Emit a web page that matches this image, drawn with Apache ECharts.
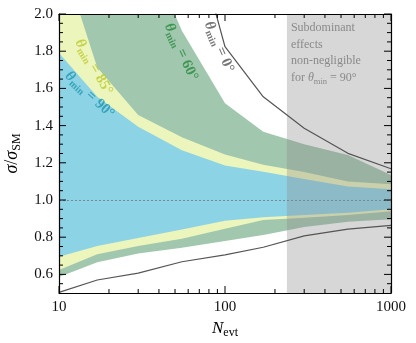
<!DOCTYPE html>
<html>
<head>
<meta charset="utf-8">
<script src="https://cdn.jsdelivr.net/npm/echarts@6/dist/echarts.min.js"></script>
<style>
  html, body { margin: 0; padding: 0; background: #fff; }
  #chart { width: 416px; height: 343px; }
</style>
</head>
<body>
<div id="chart"></div>
<script>
// Event counts (x, log scale)
const nEvt = [10, 17, 30, 55, 100, 170, 300, 550, 1000];

// sigma / sigma_SM bands per theta_min
const theta90Lo = [0.695, 0.753, 0.796, 0.841, 0.888, 0.907, 0.920, 0.932, 0.950];
const theta90Hi = [1.790, 1.555, 1.394, 1.267, 1.185, 1.152, 1.113, 1.072, 1.058];
const theta85Lo = [0.624, 0.709, 0.753, 0.792, 0.845, 0.893, 0.905, 0.920, 0.940];
const theta85Hi = [2.350, 1.712, 1.457, 1.338, 1.245, 1.190, 1.150, 1.100, 1.085];
const theta60Lo = [0.586, 0.665, 0.713, 0.743, 0.780, 0.812, 0.855, 0.883, 0.896];
const theta60Hi = [3.500, 3.000, 2.450, 1.910, 1.520, 1.367, 1.300, 1.242, 1.134];
const theta0Lo  = [0.503, 0.570, 0.607, 0.668, 0.705, 0.746, 0.807, 0.843, 0.864];
const theta0Hi  = [null, null, null, 2.670, 1.824, 1.555, 1.386, 1.251, 1.168];

const subdominantFrom = 236;
const referenceRatio = 1.0;

// ticks
const yMajorTicks = [0.6, 0.8, 1.0, 1.2, 1.4, 1.6, 1.8, 2.0];
const yMinorTicks = [0.55, 0.65, 0.7, 0.75, 0.85, 0.9, 0.95, 1.05, 1.1, 1.15, 1.25, 1.3, 1.35,
  1.45, 1.5, 1.55, 1.65, 1.7, 1.75, 1.85, 1.9, 1.95];
const xMajorTicks = [10, 100, 1000];
const xMinorTicks = [20, 30, 40, 50, 60, 70, 80, 90, 200, 300, 400, 500, 600, 700, 800, 900];

// label anchors [N, ratio]
const labelAnchors = {
  t90: [15.3, 1.565],
  t85: [16.2, 1.715],
  t60: [54.3, 1.796],
  t0: [92, 1.823]
};

const FONT = 'Liberation Serif';
const X_MIN = 10, X_MAX = 1000, Y_MIN = 0.5, Y_MAX = 2.0;
const chart = echarts.init(document.getElementById('chart'));

const pairs = (arr) => nEvt.map((n, i) => [n, arr[i]]);
const gridClip = (cs) => ({ type: 'rect', shape: { x: cs.x, y: cs.y, width: cs.width, height: cs.height } });

// filled band between lo and hi, drawn as one polygon through the axes
const band = (lo, hi, color, z) => ({
  type: 'custom', silent: true, z: z,
  data: [[nEvt[0], lo[0]]],
  renderItem: (params, api) => {
    const upper = nEvt.map((n, i) => api.coord([n, hi[i]]));
    const lower = nEvt.map((n, i) => api.coord([n, lo[i]])).reverse();
    return {
      type: 'polygon',
      shape: { points: upper.concat(lower) },
      style: { fill: color, stroke: null },
      clipPath: gridClip(params.coordSys)
    };
  }
});

const thetaLabel = (anchor, text, color, rot) => ({
  type: 'scatter', silent: true, symbolSize: 0, z: 9,
  data: [anchor],
  label: {
    show: true, position: 'inside', rotate: rot, color: color,
    fontFamily: FONT, fontWeight: 'bold', fontSize: 15,
    formatter: '{th|θ}{sub|min}{n| = ' + text + '}',
    rich: {
      th: { fontFamily: FONT, fontStyle: 'italic', fontWeight: 'bold', fontSize: 15, color: color, lineHeight: 18 },
      sub: { fontFamily: FONT, fontWeight: 'bold', fontSize: 10, color: color, lineHeight: 18, verticalAlign: 'bottom', padding: [5, 0, 0, 0] },
      n: { fontFamily: FONT, fontWeight: 'bold', fontSize: 15, color: color, lineHeight: 18 }
    }
  }
});

// inward ticks on all four sides
const tickSeries = {
  type: 'custom', silent: true, z: 12,
  data: [[X_MIN, Y_MIN]],
  renderItem: (params, api) => {
    const kids = [];
    const seg = (x1, y1, x2, y2) => kids.push({
      type: 'line', shape: { x1, y1, x2, y2 }, style: { stroke: '#000', lineWidth: 1 }
    });
    const yTick = (v, len) => {
      const l = api.coord([X_MIN, v]), r = api.coord([X_MAX, v]);
      seg(l[0], l[1], l[0] + len, l[1]);
      seg(r[0], r[1], r[0] - len, r[1]);
    };
    const xTick = (v, len) => {
      const b = api.coord([v, Y_MIN]), t = api.coord([v, Y_MAX]);
      seg(b[0], b[1], b[0], b[1] - len);
      seg(t[0], t[1], t[0], t[1] + len);
    };
    yMajorTicks.forEach(v => yTick(v, 7));
    yMinorTicks.forEach(v => yTick(v, 4));
    xMajorTicks.forEach(v => xTick(v, 7));
    xMinorTicks.forEach(v => xTick(v, 4));
    return { type: 'group', children: kids };
  }
};

// shaded region where subdominant effects matter, with its note
const shadeSeries = {
  type: 'custom', silent: true, z: 5,
  data: [[subdominantFrom, Y_MAX]],
  renderItem: (params, api) => {
    const tl = api.coord([subdominantFrom, Y_MAX]);
    const br = api.coord([X_MAX, Y_MIN]);
    return {
      type: 'group',
      children: [
        {
          type: 'rect',
          shape: { x: tl[0], y: tl[1], width: br[0] - tl[0], height: br[1] - tl[1] },
          style: { fill: 'rgba(140,140,140,0.35)' }
        },
        {
          type: 'text', x: tl[0] + 4, y: tl[1] + 6,
          style: {
            text: 'Subdominant\neffects\nnon-negligible\nfor {it|θ}{sub|min} = 90°',
            fill: '#8a8a8a', fontFamily: FONT, fontSize: 12, lineHeight: 16.5,
            rich: {
              it: { fontFamily: FONT, fontStyle: 'italic', fontSize: 12, fill: '#8a8a8a', lineHeight: 16.5 },
              sub: { fontFamily: FONT, fontSize: 8.5, fill: '#8a8a8a', lineHeight: 16.5, verticalAlign: 'bottom', padding: [4, 0, 0, 0] }
            }
          }
        }
      ]
    };
  }
};

const frameLine = { show: true, onZero: false, lineStyle: { color: '#000', width: 1.2 } };

chart.setOption({
  animation: false,
  backgroundColor: '#fff',
  grid: { left: 59, right: 25, top: 14, bottom: 50, containLabel: false, outerBoundsMode: 'none' },
  xAxis: [
    {
      type: 'log', logBase: 10, min: X_MIN, max: X_MAX, position: 'bottom', z: 20,
      name: '{it|N}{sub|evt}', nameLocation: 'middle', nameGap: 24,
      nameTextStyle: {
        rich: {
          it: { fontFamily: FONT, fontStyle: 'italic', fontSize: 17, color: '#000', lineHeight: 20 },
          sub: { fontFamily: FONT, fontSize: 12, color: '#000', lineHeight: 20, verticalAlign: 'bottom', padding: [6, 0, 0, 0] }
        }
      },
      axisLine: frameLine, axisTick: { show: false }, splitLine: { show: false },
      axisLabel: {
        show: true, margin: 7, color: '#111', fontFamily: FONT, fontSize: 15,
        formatter: (v) => String(Math.round(v))
      }
    },
    {
      type: 'log', logBase: 10, min: X_MIN, max: X_MAX, position: 'top', z: 20,
      axisLine: frameLine, axisTick: { show: false }, axisLabel: { show: false }, splitLine: { show: false }
    }
  ],
  yAxis: [
    {
      type: 'value', min: Y_MIN, max: Y_MAX, position: 'left', z: 20,
      name: '{it|σ}{n|/}{it|σ}{sub|SM}', nameLocation: 'middle', nameGap: 36, nameRotate: 90,
      nameTextStyle: {
        rich: {
          it: { fontFamily: FONT, fontStyle: 'italic', fontSize: 18, color: '#000', lineHeight: 22 },
          n: { fontFamily: FONT, fontSize: 18, color: '#000', lineHeight: 22 },
          sub: { fontFamily: FONT, fontSize: 12, color: '#000', lineHeight: 22, verticalAlign: 'bottom', padding: [7, 0, 0, 0] }
        }
      },
      axisLine: frameLine, axisTick: { show: false }, splitLine: { show: false },
      axisLabel: {
        show: true, margin: 6, customValues: yMajorTicks, color: '#111', fontFamily: FONT, fontSize: 15,
        formatter: (v) => v.toFixed(1)
      }
    },
    {
      type: 'value', min: Y_MIN, max: Y_MAX, position: 'right', z: 20,
      axisLine: frameLine, axisTick: { show: false }, axisLabel: { show: false }, splitLine: { show: false }
    }
  ],
  series: [
    band(theta60Lo, theta60Hi, '#a1c7ae', 2),
    band(theta85Lo, theta85Hi, '#ecf5bb', 3),
    band(theta90Lo, theta90Hi, '#8dd3e6', 4),
    shadeSeries,
    // theta_min = 0 envelope
    {
      type: 'line', data: pairs(theta0Lo), symbol: 'none', silent: true, z: 6,
      lineStyle: { color: '#555', width: 1.2 }
    },
    {
      type: 'line', data: pairs(theta0Hi), symbol: 'none', silent: true, z: 6, connectNulls: false,
      lineStyle: { color: '#555', width: 1.2 }
    },
    // SM reference
    {
      type: 'line', data: [], silent: true, z: 7,
      markLine: {
        silent: true, symbol: 'none', label: { show: false },
        lineStyle: { color: '#6a7a80', width: 0.8, type: [2, 2] },
        data: [{ yAxis: referenceRatio }]
      }
    },
    thetaLabel(labelAnchors.t90, '90°', '#1f97ad', -43),
    thetaLabel(labelAnchors.t85, '85°', '#bcc92e', -60),
    thetaLabel(labelAnchors.t60, '60°', '#2a8a3e', -65),
    thetaLabel(labelAnchors.t0, '0°', '#555555', -66),
    tickSeries
  ]
});
</script>
</body>
</html>
